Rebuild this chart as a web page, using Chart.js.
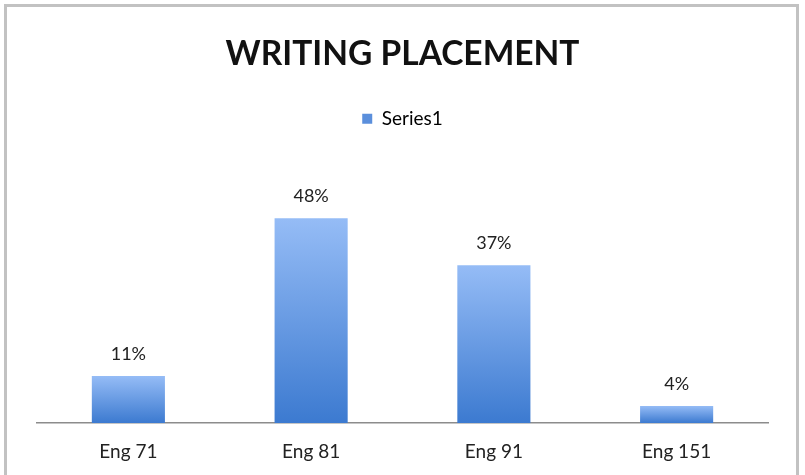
<!DOCTYPE html>
<html>
<head>
<meta charset="utf-8">
<script src="https://cdn.jsdelivr.net/npm/chart.js@4/dist/chart.umd.min.js"></script>
<style>
  html, body { margin: 0; padding: 0; background: #ffffff; }
  body { width: 805px; height: 475px; position: relative; overflow: hidden; }
  #frame { position: absolute; left: 4px; top: 4px; width: 795px; height: 490px;
           border: 3px solid #c2c2c2; border-bottom: none; box-sizing: border-box; }
  #wrap { position: absolute; left: 0; top: 0; width: 805px; height: 475px; }
</style>
</head>
<body>
<div id="frame"></div>
<div id="wrap"><canvas id="c" width="805" height="475"></canvas></div>
<script>
const categories = ["Eng 71", "Eng 81", "Eng 91", "Eng 151"];
const seriesName = "Series1";
const values = [11, 48, 37, 4];
const valueLabels = ["11%", "48%", "37%", "4%"];
const chartTitle = "WRITING PLACEMENT";

const FONT = "Lato, 'Open Sans', sans-serif";

function barGradient(context) {
  const chart = context.chart;
  const yScale = chart.scales && chart.scales.y;
  if (!yScale || context.dataIndex === undefined) return '#5b8fdc';
  const v = context.raw;
  const top = yScale.getPixelForValue(v);
  const base = yScale.getPixelForValue(0);
  if (!isFinite(top) || !isFinite(base) || top === base) return '#5b8fdc';
  const g = chart.ctx.createLinearGradient(0, top, 0, base);
  g.addColorStop(0, '#95bcf6');
  g.addColorStop(1, '#3c7ad0');
  return g;
}

const legendGap = {
  id: 'legendGap',
  beforeInit(chart) {
    const lg = chart.legend;
    if (!lg) return;
    const orig = lg.fit;
    lg.fit = function () {
      orig.call(this);
      this.height += 29;
    };
  }
};

const valueLabelPlugin = {
  id: 'valueLabels',
  afterDatasetsDraw(chart) {
    const ctx = chart.ctx;
    const meta = chart.getDatasetMeta(0);
    ctx.save();
    ctx.font = "18px " + FONT;
    ctx.fillStyle = '#222222';
    ctx.textAlign = 'center';
    ctx.textBaseline = 'middle';
    meta.data.forEach((bar, i) => {
      ctx.fillText(valueLabels[i], bar.x, bar.y - 22);
    });
    ctx.restore();
  }
};

new Chart(document.getElementById('c'), {
  type: 'bar',
  data: {
    labels: categories,
    datasets: [{
      label: seriesName,
      data: values,
      backgroundColor: barGradient,
      borderWidth: 0,
      barPercentage: 0.4,
      categoryPercentage: 1.0
    }]
  },
  options: {
    responsive: false,
    animation: false,
    events: [],
    layout: { padding: { left: 37, right: 37, top: 0, bottom: 0 } },
    plugins: {
      title: {
        display: true,
        text: chartTitle,
        color: '#111111',
        font: { family: FONT, size: 33.5, weight: 'bold', lineHeight: 1.2 },
        padding: { top: 34, bottom: 0 }
      },
      legend: {
        display: true,
        position: 'top',
        labels: {
          color: '#333333',
          font: { family: FONT, size: 19 },
          boxWidth: 10,
          boxHeight: 10,
          padding: 35,
          generateLabels: (chart) => [{
            text: seriesName,
            fillStyle: '#5b8fdc',
            strokeStyle: '#5b8fdc',
            lineWidth: 0,
            datasetIndex: 0
          }]
        }
      },
      tooltip: { enabled: false }
    },
    scales: {
      x: {
        grid: { display: false, drawTicks: false },
        border: { display: true, color: '#8c8c8c', width: 1.5 },
        ticks: { color: '#222222', font: { family: FONT, size: 19 }, padding: 17, maxRotation: 0 },
        afterFit: (scale) => { scale.height = 52; }
      },
      y: {
        display: false,
        min: 0,
        max: 60
      }
    }
  },
  plugins: [legendGap, valueLabelPlugin]
});
</script>
</body>
</html>
